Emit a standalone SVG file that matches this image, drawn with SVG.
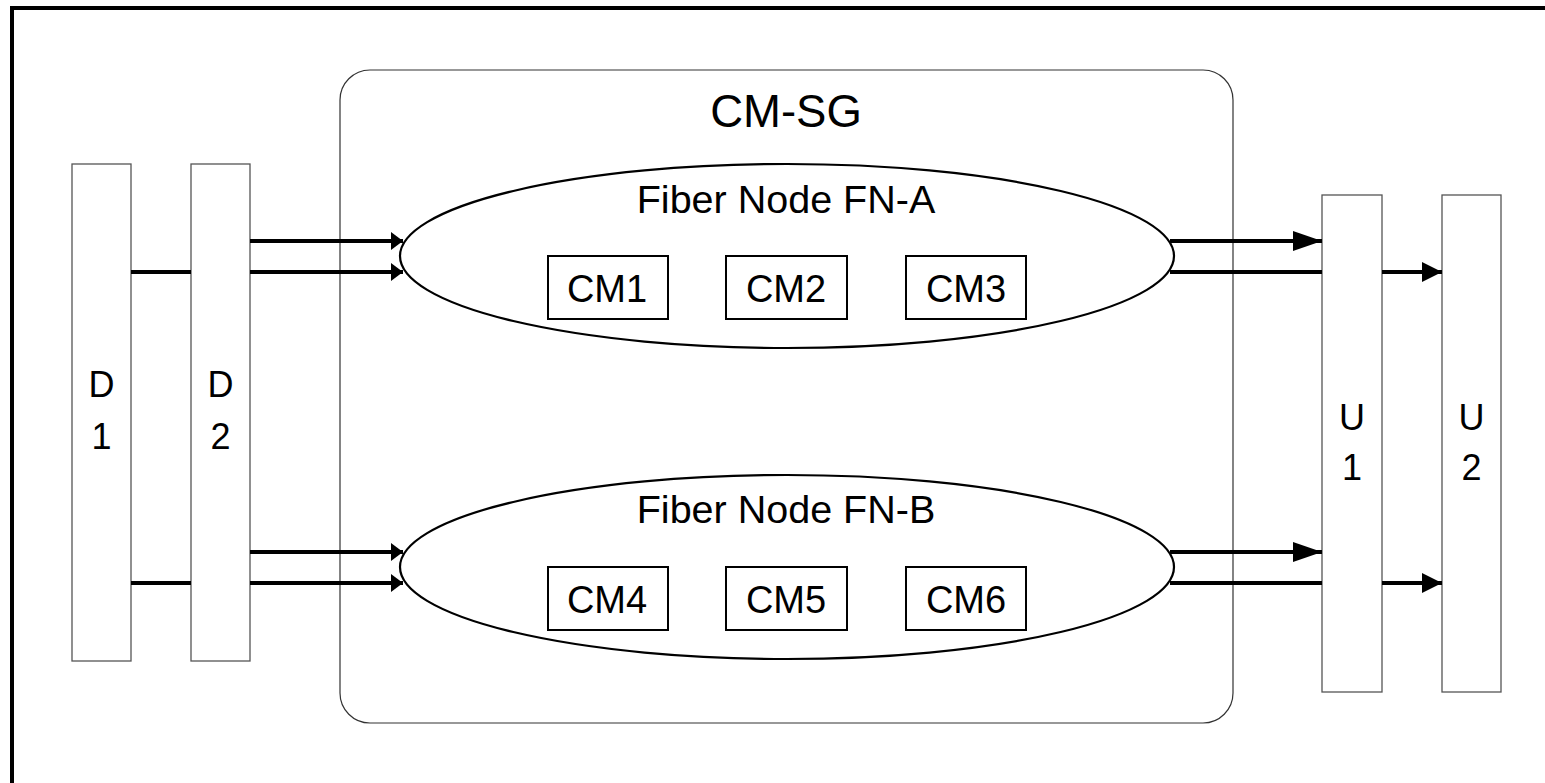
<svg xmlns="http://www.w3.org/2000/svg" width="1545" height="783" viewBox="0 0 1545 783">
<defs>
<style>
text{font-family:"Liberation Sans",Arial,sans-serif;fill:#000;text-anchor:middle}
.bar{fill:#fff;stroke:#555;stroke-width:1.3}
.cm{fill:#fff;stroke:#000;stroke-width:2}
.fn{fill:#fff;stroke:#000;stroke-width:2.2}
.ln{stroke:#000;stroke-width:4;fill:none}
.lbl{font-size:36px}
.cmt{font-size:38px}
.fnt{font-size:39.5px}
</style>
<marker id="hs" markerUnits="userSpaceOnUse" markerWidth="12" markerHeight="18" refX="12" refY="9" orient="auto"><path d="M0,0 L12,9 L0,18 z" fill="#000"/></marker>
<marker id="hb" markerUnits="userSpaceOnUse" markerWidth="29" markerHeight="20" refX="29" refY="10" orient="auto"><path d="M0,0 L29,10 L0,20 z" fill="#000"/></marker>
<marker id="hm" markerUnits="userSpaceOnUse" markerWidth="20" markerHeight="20" refX="20" refY="10" orient="auto"><path d="M0,0 L20,10 L0,20 z" fill="#000"/></marker>
</defs>
<rect width="1545" height="783" fill="#fff"/>
<path d="M12,783 V8 H1545" fill="none" stroke="#000" stroke-width="4"/>
<g id="cmsg">
<rect x="340" y="70" width="893" height="653" rx="30" fill="#fff" stroke="#333" stroke-width="1.2"/>
<text x="786" y="127" style="font-size:45.5px">CM-SG</text>
</g>
<g id="D1"><rect class="bar" x="72" y="164" width="59" height="497"/><text class="lbl" x="101.5" y="397">D</text><text class="lbl" x="101.5" y="449">1</text></g>
<g id="D2"><rect class="bar" x="191" y="164" width="59" height="497"/><text class="lbl" x="220.5" y="397">D</text><text class="lbl" x="220.5" y="449">2</text></g>
<g id="U1"><rect class="bar" x="1322" y="195" width="60" height="497"/><text class="lbl" x="1352" y="430">U</text><text class="lbl" x="1352" y="480">1</text></g>
<g id="U2"><rect class="bar" x="1442" y="195" width="59" height="497"/><text class="lbl" x="1471.5" y="430">U</text><text class="lbl" x="1471.5" y="480">2</text></g>
<g id="FNA">
<ellipse class="fn" cx="787" cy="256" rx="387" ry="92"/>
<text class="fnt" x="786" y="213">Fiber Node FN-A</text>
</g>
<g id="CM1"><rect class="cm" x="548" y="256" width="120" height="63"/><text class="cmt" x="607" y="302">CM1</text></g>
<g id="CM2"><rect class="cm" x="726" y="256" width="121" height="63"/><text class="cmt" x="786" y="302">CM2</text></g>
<g id="CM3"><rect class="cm" x="906" y="256" width="120" height="63"/><text class="cmt" x="966" y="302">CM3</text></g>
<g id="FNB">
<ellipse class="fn" cx="787" cy="567" rx="387" ry="92"/>
<text class="fnt" x="786" y="523">Fiber Node FN-B</text>
</g>
<g id="CM4"><rect class="cm" x="548" y="567" width="120" height="63"/><text class="cmt" x="607" y="613">CM4</text></g>
<g id="CM5"><rect class="cm" x="726" y="567" width="121" height="63"/><text class="cmt" x="786" y="613">CM5</text></g>
<g id="CM6"><rect class="cm" x="906" y="567" width="120" height="63"/><text class="cmt" x="966" y="613">CM6</text></g>
<g id="connectors">
<path class="ln" d="M131,272 H191"/>
<path class="ln" d="M250,241 H403" marker-end="url(#hs)"/>
<path class="ln" d="M250,272 H403" marker-end="url(#hs)"/>
<path class="ln" d="M1170,241 H1322" marker-end="url(#hb)"/>
<path class="ln" d="M1170,272 H1322"/>
<path class="ln" d="M1382,272 H1442" marker-end="url(#hm)"/>
<path class="ln" d="M131,583 H191"/>
<path class="ln" d="M250,552 H403" marker-end="url(#hs)"/>
<path class="ln" d="M250,583 H403" marker-end="url(#hs)"/>
<path class="ln" d="M1170,552 H1322" marker-end="url(#hb)"/>
<path class="ln" d="M1170,583 H1322"/>
<path class="ln" d="M1382,583 H1442" marker-end="url(#hm)"/>
</g>
</svg>
